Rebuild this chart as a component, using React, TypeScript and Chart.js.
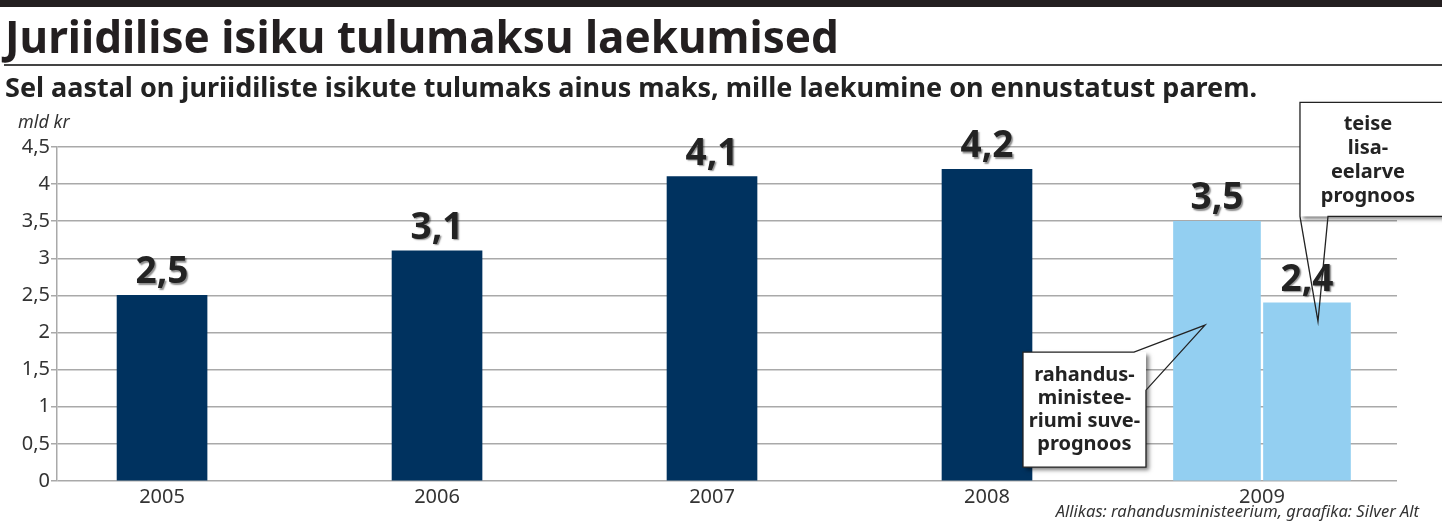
import React, { useEffect, useRef } from 'react';
import { Chart, registerables } from 'chart.js';

Chart.register(...registerables);

// ---- data ----
const years = [2005, 2006, 2007, 2008, 2009];
const actualRevenue = [2.5, 3.1, 4.1, 4.2, null];
const ministrySummerForecast = [null, null, null, null, 3.5];
const supplementaryBudgetForecast = [null, null, null, null, 2.4];
const yMin = 0;
const yMax = 4.5;
const yStep = 0.5;

// ---- text ----
const titleText = 'Juriidilise isiku tulumaksu laekumised';
const subtitleText =
  'Sel aastal on juriidiliste isikute tulumaks ainus maks, mille laekumine on ennustatust parem.';
const unitText = 'mld kr';
const sourceText = 'Allikas: rahandusministeerium, graafika: Silver Alt';
const ministryNote = ['rahandus-', 'ministee-', 'riumi suve-', 'prognoos'];
const budgetNote = ['teise', 'lisa-', 'eelarve', 'prognoos'];
// value (in mld kr) where each callout pointer touches its bar
const ministryNoteAnchor = 2.1;
const budgetNoteAnchor = 2.15;

const NAVY = '#00325f';
const LIGHT = '#93cff1';
const GRID = '#a9a9a9';
const INK = '#232323';

const fmt = (v: number) => String(v).replace('.', ',');

const overlayPlugin = {
  id: 'overlay',
  afterDatasetsDraw(chart: any) {
    const ctx: CanvasRenderingContext2D = chart.ctx;
    // value labels
    ctx.save();
    ctx.font = '700 37px "Noto Sans"';
    ctx.textAlign = 'center';
    ctx.textBaseline = 'alphabetic';
    chart.data.datasets.forEach((ds: any, di: number) => {
      const meta = chart.getDatasetMeta(di);
      meta.data.forEach((el: any, i: number) => {
        const v = ds.data[i];
        if (v == null) return;
        ctx.shadowColor = 'rgba(0,0,0,0.45)';
        ctx.shadowOffsetX = 1.5;
        ctx.shadowOffsetY = 1.5;
        ctx.shadowBlur = 1.5;
        ctx.fillStyle = INK;
        ctx.fillText(fmt(v), el.x, el.y - 12);
      });
    });
    ctx.restore();

    const ys = chart.scales.y;
    const b1 = chart.getDatasetMeta(1).data[4];
    const b2 = chart.getDatasetMeta(2).data[4];
    if (!b1 || !b2) return;

    // left callout
    const t1 = { x: b1.x - 12, y: ys.getPixelForValue(ministryNoteAnchor) };
    const L = t1.x - 182, R = t1.x - 59, T = t1.y + 27, B = t1.y + 142;
    ctx.save();
    ctx.shadowColor = 'rgba(0,0,0,0.5)';
    ctx.shadowOffsetX = 3;
    ctx.shadowOffsetY = 3;
    ctx.shadowBlur = 4;
    ctx.fillStyle = '#fff';
    ctx.fillRect(L, T, R - L, B - T);
    ctx.restore();
    ctx.save();
    ctx.beginPath();
    ctx.moveTo(R - 12, T);
    ctx.lineTo(L, T);
    ctx.lineTo(L, B);
    ctx.lineTo(R, B);
    ctx.lineTo(R, T + 38);
    ctx.lineTo(t1.x, t1.y);
    ctx.closePath();
    ctx.lineWidth = 1.3;
    ctx.strokeStyle = '#222';
    ctx.stroke();
    ctx.font = '700 20px "Noto Sans"';
    ctx.fillStyle = INK;
    ctx.textAlign = 'center';
    ctx.textBaseline = 'middle';
    const cx1 = (L + R) / 2;
    ministryNote.forEach((line, i) => {
      ctx.fillText(line, cx1, T + 23.5 + i * 23);
    });
    ctx.restore();

    // right callout
    const t2 = { x: b2.x + 11, y: ys.getPixelForValue(budgetNoteAnchor) };
    const L2 = t2.x - 18, T2 = t2.y - 219, B2 = t2.y - 105, R2 = chart.width + 10;
    ctx.save();
    ctx.shadowColor = 'rgba(0,0,0,0.5)';
    ctx.shadowOffsetX = 3;
    ctx.shadowOffsetY = 3;
    ctx.shadowBlur = 4;
    ctx.fillStyle = '#fff';
    ctx.fillRect(L2, T2, R2 - L2, B2 - T2);
    ctx.restore();
    ctx.save();
    ctx.beginPath();
    ctx.moveTo(L2 + 28, B2);
    ctx.lineTo(R2, B2);
    ctx.lineTo(R2, T2);
    ctx.lineTo(L2, T2);
    ctx.lineTo(L2, B2);
    ctx.lineTo(t2.x, t2.y);
    ctx.closePath();
    ctx.lineWidth = 1.3;
    ctx.strokeStyle = '#222';
    ctx.stroke();
    ctx.font = '700 20px "Noto Sans"';
    ctx.fillStyle = INK;
    ctx.textAlign = 'center';
    ctx.textBaseline = 'middle';
    const cx2 = t2.x + 50;
    budgetNote.forEach((line, i) => {
      ctx.fillText(line, cx2, T2 + 22 + i * 24);
    });
    ctx.restore();
  },
};

export default function App() {
  const ref = useRef<HTMLCanvasElement>(null);

  useEffect(() => {
    document.body.style.margin = '0';
    const chart = new Chart(ref.current as HTMLCanvasElement, {
      type: 'bar',
      data: {
        labels: years,
        datasets: [
          {
            label: 'laekumine',
            data: actualRevenue,
            backgroundColor: NAVY,
            barThickness: 90,
          },
          {
            label: 'rahandusministeeriumi suveprognoos',
            data: ministrySummerForecast,
            backgroundColor: LIGHT,
            barThickness: 90,
            maxBarThickness: 87,
          },
          {
            label: 'teise lisaeelarve prognoos',
            data: supplementaryBudgetForecast,
            backgroundColor: LIGHT,
            barThickness: 90,
            maxBarThickness: 87,
          },
        ] as any,
      },
      options: {
        responsive: false,
        animation: false,
        events: [],
        devicePixelRatio: 1,
        datasets: { bar: { skipNull: true } } as any,
        layout: { padding: { top: 147, right: 45, left: 0, bottom: 0 } },
        plugins: {
          legend: { display: false },
          tooltip: { enabled: false },
          title: { display: false },
        },
        scales: {
          x: {
            type: 'linear',
            offset: false,
            min: 2004.618,
            max: 2009.491,
            afterBuildTicks: (s: any) => {
              s.ticks = years.map((v) => ({ value: v }));
            },
            afterFit: (s: any) => {
              s.height = 45;
            },
            ticks: {
              callback: (v: any) => String(v),
              color: '#333',
              font: { family: '"Noto Sans"', size: 20 },
              padding: 4,
              autoSkip: false,
              maxRotation: 0,
            },
            grid: { display: false, drawTicks: false },
            border: { display: false },
          },
          y: {
            min: yMin,
            max: yMax,
            afterFit: (s: any) => {
              s.width = 57;
            },
            ticks: {
              stepSize: yStep,
              callback: (v: any) => fmt(Number(v)),
              color: '#333',
              font: { family: '"Noto Sans"', size: 20 },
              padding: 1,
            },
            grid: {
              color: GRID,
              lineWidth: 1.5,
              tickLength: 6,
              tickColor: GRID,
            },
            border: { color: GRID, width: 1.5 },
          },
        } as any,
      },
      plugins: [overlayPlugin],
    });
    return () => chart.destroy();
  }, []);

  return (
    <div
      style={{
        position: 'relative',
        width: 1442,
        height: 526,
        overflow: 'hidden',
        background: '#fff',
        fontFamily: '"Noto Sans", sans-serif',
        color: INK,
      }}
    >
      <canvas ref={ref} width={1442} height={526} style={{ position: 'absolute', left: 0, top: 0 }} />
      <div style={{ position: 'absolute', left: 0, top: 0, width: 1442, height: 7, background: '#231f20' }} />
      <div
        style={{
          position: 'absolute',
          left: 5,
          top: 14,
          fontSize: 44,
          lineHeight: '44px',
          fontWeight: 700,
          whiteSpace: 'nowrap',
          color: '#231f20',
        }}
      >
        {titleText}
      </div>
      <div style={{ position: 'absolute', left: 4, top: 64, width: 1438, height: 2, background: '#444' }} />
      <div
        style={{
          position: 'absolute',
          left: 5,
          top: 73,
          fontSize: 27,
          lineHeight: '27px',
          fontWeight: 700,
          whiteSpace: 'nowrap',
          color: '#222',
        }}
      >
        {subtitleText}
      </div>
      <div
        style={{
          position: 'absolute',
          left: 18,
          top: 112,
          fontSize: 18,
          lineHeight: '18px',
          fontStyle: 'italic',
          whiteSpace: 'nowrap',
          color: '#333',
        }}
      >
        {unitText}
      </div>
      <div
        style={{
          position: 'absolute',
          right: 23,
          top: 503,
          fontSize: 16.5,
          lineHeight: '16.5px',
          fontStyle: 'italic',
          whiteSpace: 'nowrap',
          color: '#333',
        }}
      >
        {sourceText}
      </div>
    </div>
  );
}
